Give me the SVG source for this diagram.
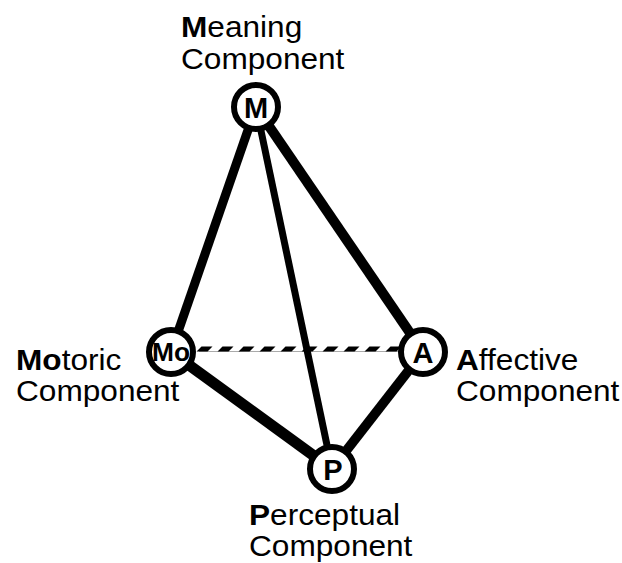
<svg xmlns="http://www.w3.org/2000/svg" width="622" height="563" viewBox="0 0 622 563">
<style>
.edge{stroke:#000;stroke-linecap:butt;fill:none}
.node circle{fill:#fff;stroke:#000;stroke-width:6}
.node text{font-family:"Liberation Sans",Arial,sans-serif;font-weight:bold;text-anchor:middle;fill:#000}
.lbl{font-family:"Liberation Sans",Arial,sans-serif;font-size:29px;fill:#000}
.lbl .b{font-weight:bold}
</style>
<rect width="622" height="563" fill="#fff"/>
<g id="connectors">
  <line x1="199" y1="351.5" x2="399" y2="351.5" stroke="#aaa" stroke-width="1"/>
  <g transform="translate(0,349) skewX(-45)">
    <line class="edge" x1="199" y1="0" x2="400" y2="0" stroke-width="5" stroke-dasharray="11 10"/>
  </g>
  <line class="edge" x1="256" y1="107" x2="171" y2="352" stroke-width="9"/>
  <line class="edge" x1="256" y1="107" x2="423" y2="352" stroke-width="10"/>
  <line class="edge" x1="256" y1="107" x2="332" y2="469" stroke-width="7"/>
  <line class="edge" x1="171" y1="352" x2="332" y2="469" stroke-width="11"/>
  <line class="edge" x1="423" y1="352" x2="332" y2="469" stroke-width="9.5"/>
</g>
<g id="node-M" class="node">
  <circle cx="256" cy="107" r="22"/>
  <text x="256" y="118" font-size="29">M</text>
</g>
<g id="node-Mo" class="node">
  <circle cx="171" cy="352" r="22"/>
  <text x="171" y="361" font-size="25" textLength="38" lengthAdjust="spacingAndGlyphs">Mo</text>
</g>
<g id="node-A" class="node">
  <circle cx="423" cy="352" r="22"/>
  <text x="423" y="363" font-size="29">A</text>
</g>
<g id="node-P" class="node">
  <circle cx="332" cy="469" r="22"/>
  <text x="333" y="480" font-size="29">P</text>
</g>
<g id="label-M" transform="translate(181,37) scale(1.09,1)">
  <text class="lbl" x="0" y="0"><tspan class="b">M</tspan>eaning</text>
  <text class="lbl" x="0" y="32">Component</text>
</g>
<g id="label-Mo" transform="translate(16,370) scale(1.09,1)">
  <text class="lbl" x="0" y="0"><tspan class="b">Mo</tspan>toric</text>
  <text class="lbl" x="0" y="31">Component</text>
</g>
<g id="label-A" transform="translate(456,370) scale(1.09,1)">
  <text class="lbl" x="0" y="0"><tspan class="b">A</tspan>ffective</text>
  <text class="lbl" x="0" y="31">Component</text>
</g>
<g id="label-P" transform="translate(249,525) scale(1.09,1)">
  <text class="lbl" x="0" y="0"><tspan class="b">P</tspan>erceptual</text>
  <text class="lbl" x="0" y="31">Component</text>
</g>
</svg>
